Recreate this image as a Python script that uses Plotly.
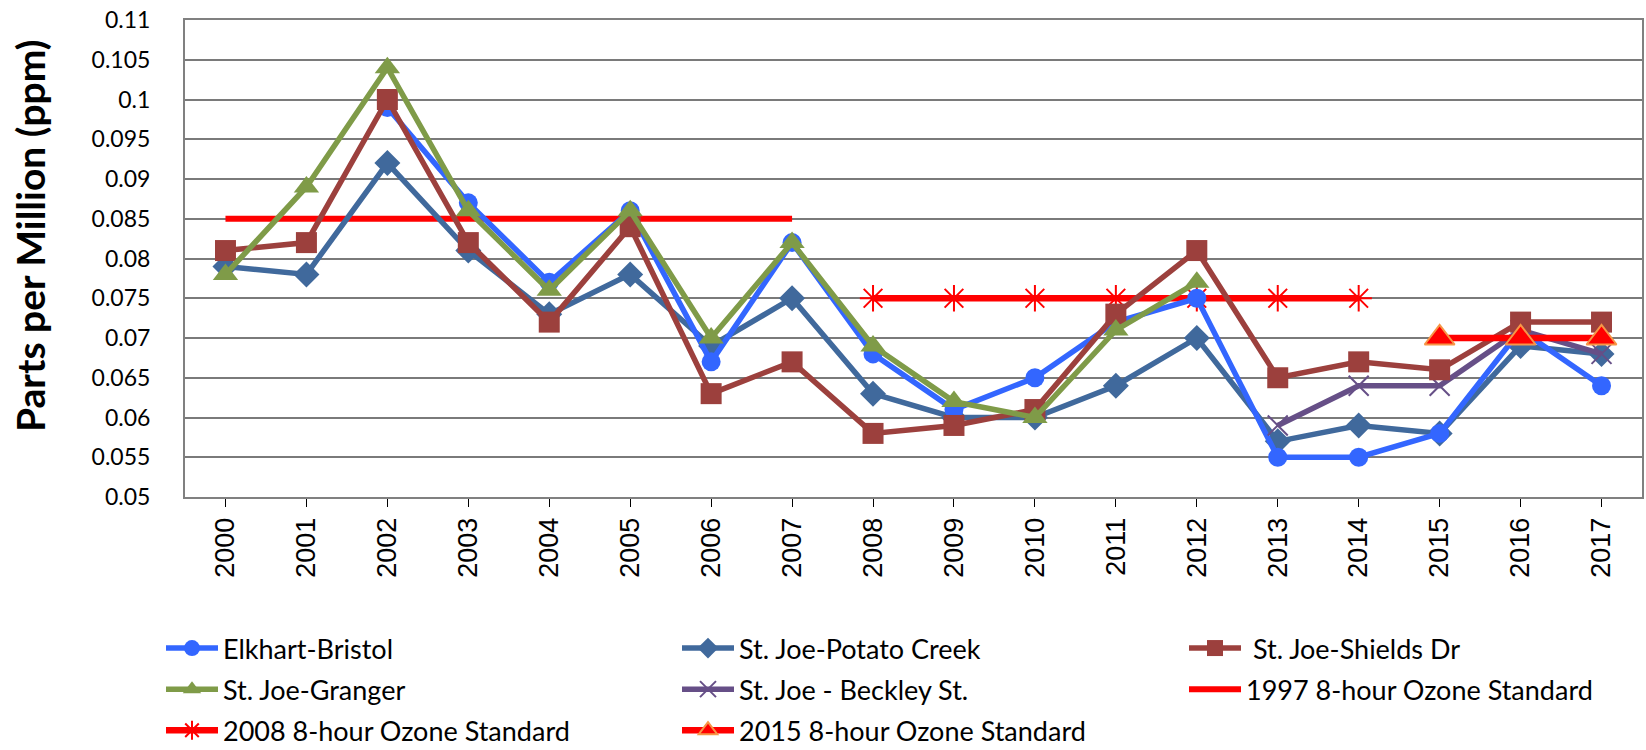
import plotly.graph_objects as go

years = [str(y) for y in range(2000, 2018)]

elkhart_bristol = [None, None, 0.099, 0.087, 0.077, 0.086, 0.067, 0.082, 0.068, 0.061,
                   0.065, 0.072, 0.075, 0.055, 0.055, 0.058, 0.071, 0.064]
potato_creek = [0.079, 0.078, 0.092, 0.081, 0.073, 0.078, 0.069, 0.075, 0.063, 0.060,
                0.060, 0.064, 0.070, 0.057, 0.059, 0.058, 0.069, 0.068]
shields_dr = [0.081, 0.082, 0.100, 0.082, 0.072, 0.084, 0.063, 0.067, 0.058, 0.059,
              0.061, 0.073, 0.081, 0.065, 0.067, 0.066, 0.072, 0.072]
granger = [0.078, 0.089, 0.104, 0.086, 0.076, 0.086, 0.070, 0.082, 0.069, 0.062,
           0.060, 0.071, 0.077, None, None, None, None, None]
beckley = [None] * 13 + [0.059, 0.064, 0.064, 0.071, 0.068]
std_1997 = [0.085] * 8 + [None] * 10
std_2008 = [None] * 8 + [0.075] * 7 + [None] * 3
std_2015 = [None] * 15 + [0.070] * 3

ytick_vals = [0.05, 0.055, 0.06, 0.065, 0.07, 0.075, 0.08, 0.085, 0.09, 0.095, 0.1, 0.105, 0.11]
ytick_text = ["0.05", "0.055", "0.06", "0.065", "0.07", "0.075", "0.08", "0.085",
              "0.09", "0.095", "0.1", "0.105", "0.11"]

FONT = "Lato, Carlito, 'Open Sans', sans-serif"

fig = go.Figure()

def add(name, y, color, symbol, msize, legend, rank, mline=None, width=5.5, mode="lines+markers"):
    marker = dict(symbol=symbol, size=msize, color=color)
    if mline:
        marker["line"] = mline
    fig.add_trace(go.Scatter(
        x=years, y=y, name=name, mode=mode, connectgaps=False,
        line=dict(color=color, width=width), marker=marker,
        legend=legend, legendgroup=name, legendrank=rank,
    ))

# drawing order
add("1997 8-hour Ozone Standard", std_1997, "#FF0000", "circle", 1, "legend3", 2, width=6, mode="lines")
add("2008 8-hour Ozone Standard", std_2008, "#FF0000", "asterisk-open", 22, "legend", 3,
    mline=dict(color="#FF0000", width=2), width=6.5)
add("St. Joe-Potato Creek", potato_creek, "#40699C", "diamond", 20, "legend2", 1)
add("Elkhart-Bristol", elkhart_bristol, "#3366FF", "circle", 19, "legend", 1)
add("St. Joe - Beckley St.", beckley, "#664F87", "x-thin-open", 20, "legend2", 2,
    mline=dict(color="#664F87", width=2))
add(" St. Joe-Shields Dr", shields_dr, "#9C403D", "square", 21, "legend3", 1)
add("St. Joe-Granger", granger, "#7F9B48", "triangle-up", 22, "legend", 2)
add("2015 8-hour Ozone Standard", std_2015, "#FF0000", "triangle-up", 26, "legend2", 3,
    mline=dict(color="#F79646", width=2), width=6.5)

W, H = 1646, 750
L, R, T, B = 185, 4, 20, 253
pw, ph = W - L - R, H - T - B

def px_x(x):
    return (x - L) / pw

def px_y(y):
    return (H - B - y) / ph

legend_common = dict(
    orientation="v", yanchor="top", xanchor="left",
    font=dict(family=FONT, size=27, color="#000000"),
    bgcolor="rgba(0,0,0,0)", itemwidth=52, tracegroupgap=3,
    traceorder="grouped",
)

fig.update_layout(
    width=W, height=H,
    margin=dict(l=L, r=R, t=T, b=B, autoexpand=False),
    paper_bgcolor="white", plot_bgcolor="white",
    showlegend=True,
    legend=dict(legend_common, x=px_x(161), y=px_y(624)),
    legend2=dict(legend_common, x=px_x(677), y=px_y(624)),
    legend3=dict(legend_common, x=px_x(1184), y=px_y(624)),
    xaxis=dict(
        type="category", categoryorder="array", categoryarray=years,
        range=[-0.5, 17.5], automargin=False,
        tickangle=-90, ticks="outside", ticklen=8, tickcolor="#000000",
        tickfont=dict(family="'Liberation Sans', Arial, sans-serif", size=27, color="#000000"),
        showgrid=False, showline=True, linecolor="#808080", linewidth=2, mirror=True,
        zeroline=False,
    ),
    yaxis=dict(
        range=[0.05, 0.11], tickvals=ytick_vals, ticktext=ytick_text, automargin=False,
        tickfont=dict(family=FONT, size=23, color="#000000"),
        showgrid=True, gridcolor="#7a7a7a", gridwidth=1.5,
        showline=True, linecolor="#808080", linewidth=2, mirror=True,
        zeroline=False, ticks="", ticklabelstandoff=28,
    ),
    annotations=[dict(
        text="<b>Parts per Million (ppm)</b>", textangle=-90,
        xref="paper", yref="paper", x=px_x(30), y=px_y(236),
        xanchor="center", yanchor="middle", showarrow=False,
        font=dict(family=FONT, size=39, color="#000000"),
    )],
)

fig.write_html(
    "out.html",
    config={"displayModeBar": False},
    post_script="document.body.style.margin='0';document.body.style.overflow='hidden';",
)
